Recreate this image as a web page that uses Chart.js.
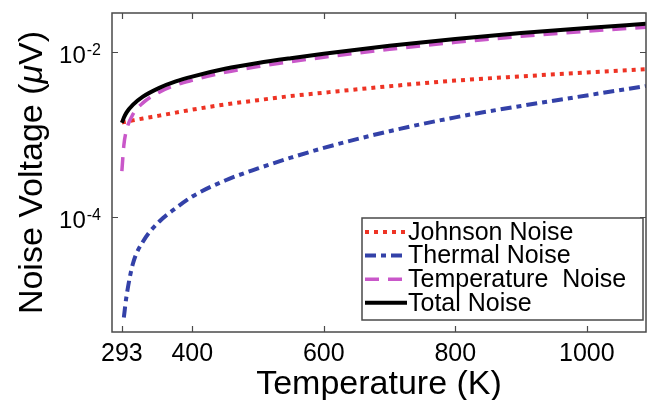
<!DOCTYPE html>
<html>
<head>
<meta charset="utf-8">
<script src="https://cdn.jsdelivr.net/npm/chart.js@4.4.0/dist/chart.umd.min.js"></script>
<style>
  html, body { margin: 0; padding: 0; background: #fff; }
  .wrap { width: 648px; height: 400px; }
</style>
</head>
<body>
<div class="wrap"><canvas id="noise"></canvas></div>
<script>
// values (noise voltage in uV vs temperature in K)
const temps = [293, 296, 300, 310, 325, 350, 375, 400, 450, 500, 550, 600, 700, 800, 900, 1000, 1090];
const johnson = [1.40e-3, 1.42e-3, 1.44e-3, 1.49e-3, 1.57e-3, 1.70e-3, 1.85e-3, 2.01e-3, 2.32e-3, 2.62e-3, 2.94e-3, 3.23e-3, 3.87e-3, 4.53e-3, 5.10e-3, 5.68e-3, 6.24e-3];
const thermal = [null, 6.0e-6, 1.08e-5, 2.73e-5, 5.0e-5, 8.8e-5, 1.28e-4, 1.77e-4, 2.77e-4, 3.88e-4, 5.24e-4, 6.89e-4, 1.10e-3, 1.62e-3, 2.23e-3, 2.99e-3, 3.90e-3];
const temperature = [3.6e-4, 7.4e-4, 1.13e-3, 1.77e-3, 2.43e-3, 3.28e-3, 4.0e-3, 4.57e-3, 5.7e-3, 6.7e-3, 7.68e-3, 8.7e-3, 1.087e-2, 1.32e-2, 1.56e-2, 1.80e-2, 2.02e-2];
const total = [1.39e-3, 1.60e-3, 1.85e-3, 2.31e-3, 2.89e-3, 3.70e-3, 4.43e-3, 5.07e-3, 6.3e-3, 7.41e-3, 8.48e-3, 9.59e-3, 1.197e-2, 1.452e-2, 1.714e-2, 1.977e-2, 2.219e-2];

const xTicks = [293, 400, 600, 800, 1000];
const yTicks = [1e-4, 1e-2];
const yTickExp = ['-4', '-2'];

const FONT = '"Liberation Sans", Arial, Helvetica, sans-serif';

function pts(arr) {
  return temps.map((t, i) => ({ x: t, y: arr[i] }));
}

// axes box, inward ticks, tick labels, titles and legend
const frame = {
  id: 'frame',
  afterDraw(chart) {
    const ctx = chart.ctx;
    const a = chart.chartArea;
    const xs = chart.scales.x, ys = chart.scales.y;
    ctx.save();
    ctx.strokeStyle = '#4a4a4a';
    ctx.lineWidth = 1.5;
    ctx.strokeRect(a.left, a.top, a.right - a.left, a.bottom - a.top);

    ctx.lineWidth = 1.2;
    ctx.beginPath();
    xTicks.forEach(v => {
      const px = Math.round(xs.getPixelForValue(v)) + 0.5;
      ctx.moveTo(px, a.bottom); ctx.lineTo(px, a.bottom - 6);
      ctx.moveTo(px, a.top); ctx.lineTo(px, a.top + 6);
    });
    yTicks.forEach(v => {
      const py = Math.round(ys.getPixelForValue(v)) + 0.5;
      ctx.moveTo(a.left, py); ctx.lineTo(a.left + 6, py);
      ctx.moveTo(a.right, py); ctx.lineTo(a.right - 6, py);
    });
    ctx.stroke();

    ctx.fillStyle = '#000';
    // x tick labels
    ctx.font = '25px ' + FONT;
    ctx.textAlign = 'center';
    ctx.textBaseline = 'alphabetic';
    xTicks.forEach(v => {
      ctx.fillText(String(v), xs.getPixelForValue(v), 361);
    });

    // y tick labels 10^n
    ctx.textAlign = 'left';
    yTicks.forEach((v, i) => {
      const py = ys.getPixelForValue(v);
      ctx.font = '24px ' + FONT;
      const w10 = ctx.measureText('10').width;
      ctx.font = '16px ' + FONT;
      const wExp = ctx.measureText(yTickExp[i]).width;
      const x0 = 101 - wExp - w10 - 1;
      ctx.font = '24px ' + FONT;
      ctx.fillText('10', x0, py + 11);
      ctx.font = '16px ' + FONT;
      ctx.fillText(yTickExp[i], x0 + w10 + 1, py + 3);
    });

    // x title
    ctx.font = '34px ' + FONT;
    ctx.textAlign = 'center';
    ctx.fillText('Temperature (K)', (a.left + a.right) / 2, 394);

    // y title, mu in italics
    ctx.save();
    ctx.translate(42, (a.top + a.bottom) / 2);
    ctx.rotate(-Math.PI / 2);
    const parts = [['Noise Voltage (', ''], ['\u03bc', 'italic '], ['V)', '']];
    let tw = 0;
    parts.forEach(p => { ctx.font = p[1] + '34px ' + FONT; tw += ctx.measureText(p[0]).width; });
    let cx = -tw / 2;
    ctx.textAlign = 'left';
    parts.forEach(p => {
      ctx.font = p[1] + '34px ' + FONT;
      ctx.fillText(p[0], cx, 0);
      cx += ctx.measureText(p[0]).width;
    });
    ctx.restore();

    // legend
    const lx = 362, ly = 218, lw = 281, lh = 102;
    ctx.fillStyle = '#fff';
    ctx.fillRect(lx, ly, lw, lh);
    ctx.strokeStyle = '#4a4a4a';
    ctx.lineWidth = 1.5;
    ctx.strokeRect(lx, ly, lw, lh);
    ctx.font = '25px ' + FONT;
    ctx.textAlign = 'left';
    ctx.textBaseline = 'middle';
    chart.data.datasets.forEach((ds, i) => {
      const rowY = ly + 14 + i * 23.6;
      ctx.save();
      ctx.strokeStyle = ds.borderColor;
      ctx.lineWidth = ds.borderWidth;
      ctx.setLineDash(ds.borderDash || []);
      ctx.beginPath();
      ctx.moveTo(lx + 3, rowY);
      ctx.lineTo(lx + 45, rowY);
      ctx.stroke();
      ctx.restore();
      ctx.fillStyle = '#000';
      ctx.fillText(ds.label, lx + 46, rowY + 1);
    });
    ctx.restore();
  }
};

new Chart(document.getElementById('noise'), {
  type: 'line',
  data: {
    datasets: [
      {
        label: 'Johnson Noise',
        data: pts(johnson),
        borderColor: '#ee3324',
        borderWidth: 4,
        borderDash: [4, 5],
        order: 3
      },
      {
        label: 'Thermal Noise',
        data: pts(thermal),
        borderColor: '#3341a8',
        borderWidth: 4,
        borderDash: [11, 5, 5, 5],
        order: 4
      },
      {
        label: 'Temperature  Noise',
        data: pts(temperature),
        borderColor: '#c957c9',
        borderWidth: 3.5,
        borderDash: [14, 9],
        order: 2
      },
      {
        label: 'Total Noise',
        data: pts(total),
        borderColor: '#000000',
        borderWidth: 4,
        order: 1
      }
    ]
  },
  options: {
    responsive: true,
    maintainAspectRatio: false,
    animation: false,
    layout: {
      padding: { left: 112, right: 2, top: 13, bottom: 68 }
    },
    elements: {
      point: { radius: 0 },
      line: { cubicInterpolationMode: 'monotone', borderCapStyle: 'butt', borderJoinStyle: 'round', fill: false }
    },
    scales: {
      x: { type: 'linear', min: 278, max: 1090, display: false },
      y: { type: 'logarithmic', min: 4e-6, max: 0.03, display: false }
    },
    plugins: {
      legend: { display: false },
      tooltip: { enabled: false }
    }
  },
  plugins: [frame]
});
</script>
</body>
</html>
